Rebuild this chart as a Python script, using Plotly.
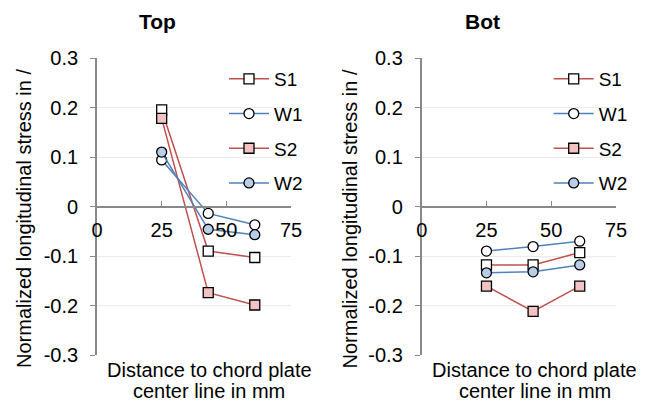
import plotly.graph_objects as go

# ---------------- data ----------------
x_pos = [25, 43, 61]
series_names = ["S1", "W1", "S2", "W2"]

top_S1 = [0.195, -0.090, -0.103]
top_W1 = [0.094, -0.014, -0.037]
top_S2 = [0.178, -0.174, -0.199]
top_W2 = [0.110, -0.046, -0.057]

bot_S1 = [-0.118, -0.118, -0.093]
bot_W1 = [-0.090, -0.081, -0.070]
bot_S2 = [-0.161, -0.212, -0.161]
bot_W2 = [-0.134, -0.132, -0.118]

x_tickvals = [0, 25, 50, 75]
x_ticktext = ["0", "25", "50", "75"]
y_tickvals = [0.3, 0.2, 0.1, 0, -0.1, -0.2, -0.3]
y_ticktext = ["0.3", "0.2", "0.1", "0", "-0.1", "-0.2", "-0.3"]

panel_titles = ["Top", "Bot"]
y_title = "Normalized longitudinal stress in /"
x_title_lines = ["Distance to chord plate", "center line in mm"]

# ---------------- styles ----------------
RED = "#C0504D"
BLUE = "#4F81BD"
styles = {
    "S1": dict(line=RED, symbol="square", fill="white"),
    "W1": dict(line=BLUE, symbol="circle", fill="white"),
    "S2": dict(line=RED, symbol="square", fill="#F2C3C2"),
    "W2": dict(line=BLUE, symbol="circle", fill="#B9CDE8"),
}
FONT = "Liberation Sans, Arial, sans-serif"
W, H = 650, 403

fig = go.Figure()

panels = [
    ("x", "y", "legend", [top_S1, top_W1, top_S2, top_W2]),
    ("x2", "y2", "legend2", [bot_S1, bot_W1, bot_S2, bot_W2]),
]
for xa, ya, lg, data in panels:
    for name, vals in zip(series_names, data):
        st = styles[name]
        fig.add_trace(go.Scatter(
            x=x_pos, y=vals, name=name, mode="lines+markers",
            xaxis=xa, yaxis=ya, legend=lg, legendgroup=name + lg,
            line=dict(color=st["line"], width=1.5),
            marker=dict(symbol=st["symbol"], size=10, color=st["fill"],
                        line=dict(color="black", width=1.3)),
        ))

def px_x(p):
    return p / W

def px_y(p):
    return 1 - p / H

ydom = [px_y(355), px_y(58)]
xdoms = [[px_x(97), px_x(291)], [px_x(421.7), px_x(616)]]
zero_pos = px_y(206.5)

axis_col = "#898989"
grid_col = "#EBEBEB"
layout = dict(
    width=W, height=H,
    margin=dict(l=0, r=0, t=0, b=0, pad=0, autoexpand=False),
    paper_bgcolor="white", plot_bgcolor="white",
    font=dict(family=FONT, size=20, color="black"),
    showlegend=True,
)
for i, (xd, yname, xname) in enumerate(zip(xdoms, ["yaxis", "yaxis2"], ["xaxis", "xaxis2"])):
    xa_ref = "x" if i == 0 else "x2"
    layout[xname] = dict(
        domain=xd, range=[0, 75], anchor="free", position=zero_pos,
        tickvals=x_tickvals, ticktext=x_ticktext,
        ticks="inside", ticklen=5, tickcolor=axis_col, tickwidth=1.3,
        showline=True, linecolor=axis_col, linewidth=1.8,
        showgrid=False, zeroline=False, automargin=False,
        ticklabelstandoff=6,
        tickfont=dict(size=20),
    )
    layout[yname] = dict(
        domain=ydom, range=[-0.3, 0.3], anchor=xa_ref,
        tickvals=y_tickvals, ticktext=y_ticktext,
        ticks="outside", ticklen=5, tickcolor=axis_col, tickwidth=1.3,
        showline=True, linecolor=axis_col, linewidth=1.8,
        showgrid=True, gridcolor=grid_col, gridwidth=1,
        zeroline=False, automargin=False,
        ticklabelstandoff=8,
        tickfont=dict(size=20),
    )

legend_common = dict(
    font=dict(size=19), bgcolor="rgba(0,0,0,0)", borderwidth=0,
    tracegroupgap=7, itemsizing="trace", itemwidth=40,
    xanchor="left", yanchor="top",
)
layout["legend"] = dict(legend_common, x=px_x(224), y=px_y(60))
layout["legend2"] = dict(legend_common, x=px_x(548.7), y=px_y(60))
fig.update_layout(**layout)

offset = 325.5
for i, t in enumerate(panel_titles):
    dx = i * offset
    fig.add_annotation(text="<b>%s</b>" % t, x=px_x(157 + dx), y=px_y(21),
                       xref="paper", yref="paper", showarrow=False,
                       xanchor="center", yanchor="middle", font=dict(size=21))
    fig.add_annotation(text=y_title, x=px_x(24 + dx), y=px_y(219),
                       xref="paper", yref="paper", showarrow=False, textangle=-90,
                       xanchor="center", yanchor="middle", font=dict(size=20))
    fig.add_annotation(text=x_title_lines[0], x=px_x(209 + dx), y=px_y(370),
                       xref="paper", yref="paper", showarrow=False,
                       xanchor="center", yanchor="middle", font=dict(size=20))
    fig.add_annotation(text=x_title_lines[1], x=px_x(209 + dx), y=0,
                       xref="paper", yref="paper", showarrow=False,
                       xanchor="center", yanchor="bottom", borderpad=0,
                       font=dict(size=20))

fig.write_html("out.html")
